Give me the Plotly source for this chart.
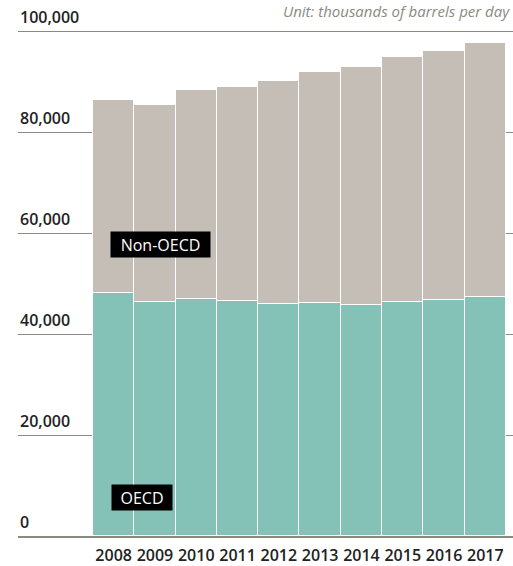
import plotly.graph_objects as go

years = ["2008", "2009", "2010", "2011", "2012", "2013", "2014", "2015", "2016", "2017"]
oecd = [48200, 46300, 47000, 46500, 46000, 46100, 45700, 46400, 46800, 47300]
non_oecd = [38100, 39000, 41400, 42400, 44200, 45900, 47300, 48500, 49200, 50300]
ytick_vals = [0, 20000, 40000, 60000, 80000, 100000]
ytick_text = ["0", "20,000", "40,000", "60,000", "80,000", "100,000"]

FONT = "Open Sans"
GRID = "#8c8a80"

fig = go.Figure()
fig.add_trace(go.Bar(x=years, y=oecd, name="OECD",
                     marker=dict(color="#84c1b6", line=dict(color="white", width=1.2))))
fig.add_trace(go.Bar(x=years, y=non_oecd, name="Non-OECD",
                     marker=dict(color="#c5beb7", line=dict(color="white", width=1.2))))

annotations = []
for v, t in zip(ytick_vals, ytick_text):
    annotations.append(dict(text=t, xref="paper", x=0, xanchor="left",
                            yref="y", y=v, yanchor="bottom", yshift=1,
                            showarrow=False,
                            font=dict(size=16, family=FONT, color="#222222", weight=600)))

annotations += [
    dict(text="Unit: thousands of barrels per day", xref="paper", yref="paper",
         x=1.0, y=1.0, yshift=-10, xanchor="right", yanchor="middle", xshift=-1,
         showarrow=False, font=dict(size=15, color="#8a8a80", family=FONT, style="italic")),
    dict(text="Non-OECD", x=1.134, xref="x", y=57700, yref="y",
         xanchor="center", yanchor="middle", showarrow=False,
         bgcolor="black", borderpad=2, width=95, height=21,
         font=dict(size=16, color="white", family=FONT)),
    dict(text="OECD", x=0.686, xref="x", y=7600, yref="y",
         xanchor="center", yanchor="middle", showarrow=False,
         bgcolor="black", borderpad=2, width=56, height=21,
         font=dict(size=16, color="white", family=FONT)),
]

fig.update_layout(
    barmode="stack",
    bargap=0,
    width=513, height=566,
    margin=dict(l=18, r=0, t=1, b=26),
    paper_bgcolor="white", plot_bgcolor="white",
    showlegend=False,
    font=dict(family=FONT, color="#222222"),
    xaxis=dict(
        type="category",
        range=[-2.316, 9.67],
        showgrid=False,
        showline=True, linecolor=GRID, linewidth=1.5,
        ticks="",
        ticklabelstandoff=4,
        tickfont=dict(size=16, family=FONT, color="#222222", weight=600),
    ),
    yaxis=dict(
        range=[0, 106000],
        tickvals=ytick_vals,
        showticklabels=False,
        showgrid=True, gridcolor=GRID, gridwidth=1.3,
        zeroline=False,
        ticks="",
    ),
    annotations=annotations,
)

fig.write_html("out.html",
               config={"displayModeBar": False},
               post_script="document.body.style.margin='0';document.body.style.overflow='hidden';")
